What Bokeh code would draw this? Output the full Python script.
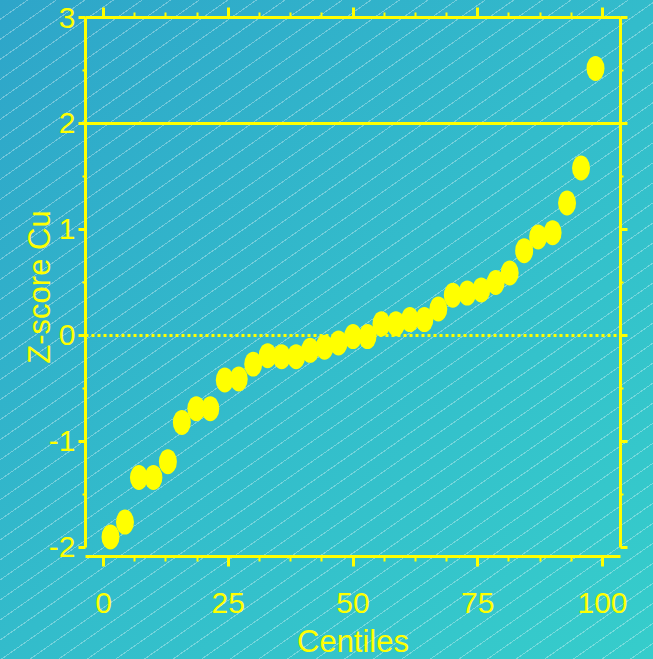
from bokeh.plotting import figure
from bokeh.models import LinearAxis, FixedTicker, Span, Range1d, ColumnDataSource
from bokeh.embed import file_html
from bokeh.resources import INLINE

# ---- data ----
centiles = [1.4, 4.3, 7.1, 10.0, 12.9, 15.7, 18.6, 21.4, 24.3, 27.1,
            30.0, 32.9, 35.7, 38.6, 41.4, 44.3, 47.1, 50.0, 52.9, 55.7,
            58.6, 61.4, 64.3, 67.1, 70.0, 72.9, 75.7, 78.6, 81.4, 84.3,
            87.1, 90.0, 92.9, 95.7, 98.6]
zscore_cu = [-1.90, -1.76, -1.34, -1.34, -1.19, -0.82, -0.69, -0.69, -0.42, -0.41,
             -0.27, -0.19, -0.20, -0.20, -0.14, -0.11, -0.07, -0.01, -0.01, 0.11,
             0.11, 0.15, 0.15, 0.25, 0.38, 0.40, 0.43, 0.50, 0.59, 0.80,
             0.93, 0.97, 1.25, 1.58, 2.52]
x_ticks = [0, 25, 50, 75, 100]
x_minor = [6.25, 12.5, 18.75, 31.25, 37.5, 43.75, 56.25, 62.5, 68.75, 81.25, 87.5, 93.75]
y_ticks = [-2, -1, 0, 1, 2, 3]
y_tick_labels = ["-2", "-1", "0", "1", "2", "3"]
y_minor = [-1.5, -0.5, 0.5, 1.5, 2.5]
ref_levels = [0, 2]

YEL = "#ffff00"
FONT = "Liberation Sans"

p = figure(width=653, height=669,
           x_range=Range1d(-3.61, 103.61), y_range=Range1d(-2.085, 3.0),
           output_backend="svg", toolbar_location=None,
           x_axis_location=None, y_axis_location=None,
           min_border_left=85, min_border_right=33,
           min_border_top=17, min_border_bottom=113)
p.background_fill_color = None
p.border_fill_color = None
p.outline_line_color = None
p.grid.visible = False
p.styles = {
    "background": "repeating-linear-gradient(145deg, rgba(255,255,255,0) 0px, rgba(255,255,255,0) 15.4px, rgba(255,255,255,0.32) 15.4px, rgba(255,255,255,0.32) 16.4px), linear-gradient(135deg, #2ea5c9 0%, #33bccb 50%, #36cdcb 100%)",
    "position": "fixed",
    "top": "0px",
    "left": "0px",
}

xt = FixedTicker(ticks=x_ticks, minor_ticks=x_minor)
yt = FixedTicker(ticks=y_ticks, minor_ticks=y_minor)

common = dict(axis_line_color=YEL, axis_line_width=3,
              major_tick_line_color=YEL, major_tick_line_width=3,
              minor_tick_line_color=YEL, minor_tick_line_width=2,
              major_tick_in=0, minor_tick_in=0,
              major_label_text_color=YEL, major_label_text_font=FONT,
              axis_label_text_color=YEL, axis_label_text_font=FONT,
              axis_label_text_font_style="normal")

bottom = LinearAxis(ticker=xt, major_tick_out=10, minor_tick_out=5,
                    major_label_text_font_size="30px", major_label_standoff=26,
                    axis_label="Centiles", axis_label_text_font_size="31px",
                    axis_label_standoff=8, **common)
left = LinearAxis(ticker=yt, major_tick_out=7, minor_tick_out=3, bounds=(-2, 3),
                  major_label_text_font_size="30px", major_label_standoff=3,
                  major_label_overrides=dict(zip(y_ticks, y_tick_labels)),
                  axis_label="Z-score Cu", axis_label_text_font_size="31px",
                  axis_label_standoff=-11, **common)
empty_x = {t: "" for t in x_ticks}
empty_y = {t: "" for t in y_ticks}
top = LinearAxis(ticker=xt, major_tick_out=10, minor_tick_out=5,
                 major_label_text_font_size="0px", major_label_standoff=0,
                 major_label_overrides=empty_x, **common)
right = LinearAxis(ticker=yt, major_tick_out=7, minor_tick_out=3, bounds=(-2, 3),
                   major_label_text_font_size="0px", major_label_standoff=0,
                   major_label_overrides=empty_y, **common)
p.add_layout(bottom, "below")
p.add_layout(left, "left")
p.add_layout(top, "above")
p.add_layout(right, "right")

p.add_layout(Span(location=ref_levels[0], dimension="width", line_color=YEL,
                  line_width=3, line_dash="3 3"))
p.add_layout(Span(location=ref_levels[1], dimension="width", line_color=YEL,
                  line_width=3))

src = ColumnDataSource(dict(x=centiles, y=zscore_cu))
p.ellipse(x="x", y="y", width=18, height=25, width_units="screen",
          height_units="screen", source=src, fill_color=YEL, line_color=None)

open("out.html", "w").write(file_html(p, INLINE))
